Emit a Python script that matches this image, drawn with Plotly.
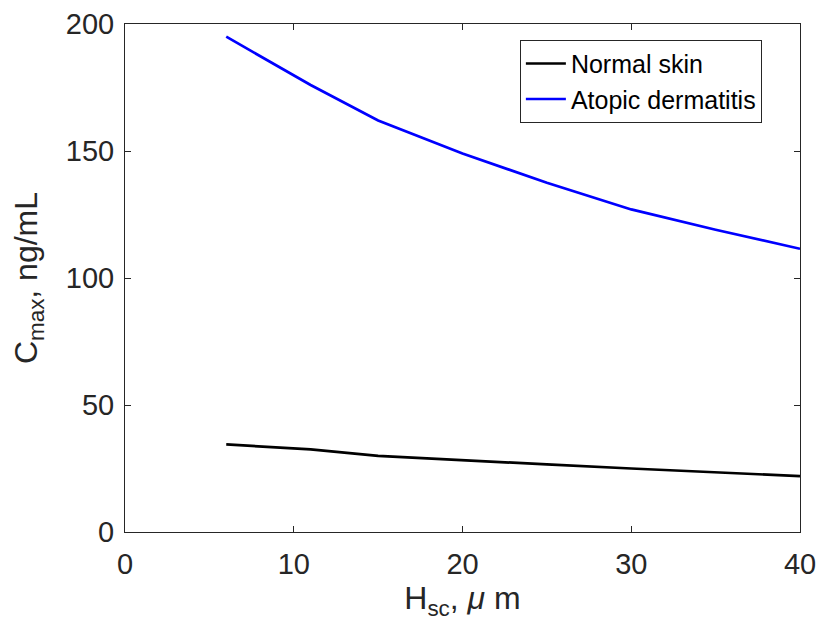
import plotly.graph_objects as go

# Stratum corneum thickness (um)
h_sc = [6, 11, 15, 20, 25, 30, 35, 40]
# Peak concentration (ng/mL)
cmax_normal = [34.5, 32.5, 30.0, 28.2, 26.6, 25.0, 23.5, 22.0]
cmax_atopic = [195.0, 176.0, 162.0, 149.0, 137.5, 127.0, 119.0, 111.5]

x_ticks = [0, 10, 20, 30, 40]
y_ticks = [0, 50, 100, 150, 200]

FONT = "Liberation Sans, Arial, Helvetica, sans-serif"
AXIS_COLOR = "#262626"

fig = go.Figure()
fig.add_trace(go.Scatter(x=h_sc, y=cmax_normal, mode="lines", name="Normal skin",
                         line=dict(color="black", width=2.7)))
fig.add_trace(go.Scatter(x=h_sc, y=cmax_atopic, mode="lines", name="Atopic dermatitis",
                         line=dict(color="blue", width=2.7)))

axis_common = dict(
    showline=True, linecolor=AXIS_COLOR, linewidth=1, mirror="ticks",
    ticks="inside", ticklen=6, tickcolor=AXIS_COLOR, tickwidth=1,
    showgrid=False, zeroline=False, automargin=False,
    tickfont=dict(family=FONT, size=29, color=AXIS_COLOR),
)

fig.update_layout(
    width=820, height=627,
    margin=dict(l=125, r=20, t=24, b=95),
    plot_bgcolor="white", paper_bgcolor="white",
    font=dict(family=FONT, color=AXIS_COLOR),
    xaxis=dict(range=[0, 40], tickvals=x_ticks, ticklabelstandoff=6,
               title=dict(text="H<sub>sc</sub>, <i>μ</i> m", standoff=6,
                          font=dict(family=FONT, size=32, color=AXIS_COLOR)),
               **axis_common),
    yaxis=dict(range=[0, 200], tickvals=y_ticks, ticklabelstandoff=4,
               title=dict(text="C<sub>max</sub>, ng/mL", standoff=18,
                          font=dict(family=FONT, size=32, color=AXIS_COLOR)),
               **axis_common),
    legend=dict(x=0.585, y=0.969, xanchor="left", yanchor="top",
                bgcolor="white", bordercolor=AXIS_COLOR, borderwidth=1,
                font=dict(family=FONT, size=25, color="black"),
                itemwidth=40, tracegroupgap=0),
    showlegend=True,
)

fig.write_html("out.html")
